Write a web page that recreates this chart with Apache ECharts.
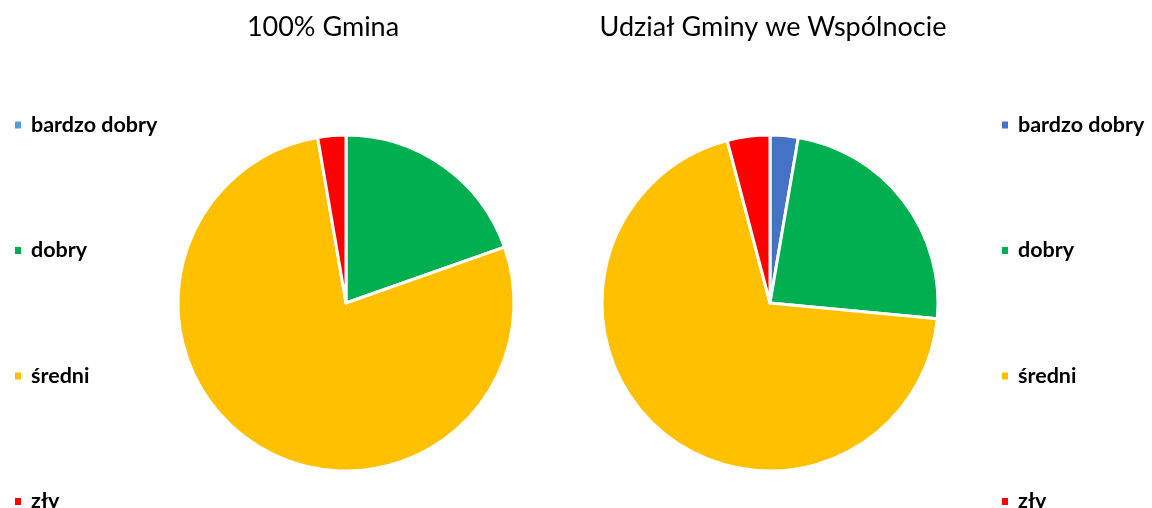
<!DOCTYPE html>
<html>
<head>
<meta charset="utf-8">
<script src="https://cdn.jsdelivr.net/npm/echarts@6/dist/echarts.min.js"></script>
<style>
  html, body { margin: 0; padding: 0; background: #fff; }
  #chart { width: 1152px; height: 508px; }
</style>
</head>
<body>
<div id="chart"></div>
<script>
const categories = ['bardzo dobry', 'dobry', 'średni', 'zły']
const gminaValues = [0, 19.6, 77.7, 2.7]
const wspolnotaValues = [2.7, 23.8, 69.4, 4.1]
const titles = ['100% Gmina', 'Udział Gminy we Wspólnocie']

const leftColors = ['#5B9BD5', '#00B050', '#FFC000', '#FF0000']
const rightColors = ['#4472C4', '#00B050', '#FFC000', '#FF0000']

const font = 'Lato, "Open Sans", sans-serif'

const toData = (values, colors) =>
  categories.map((name, i) => ({ name, value: values[i], itemStyle: { color: colors[i] } }))

const legendFor = (left, colors) => ({
  orient: 'vertical',
  left,
  top: 109,
  height: 420,
  icon: 'rect',
  itemWidth: 8,
  itemHeight: 9,
  itemGap: 103.5,
  selectedMode: false,
  textStyle: {
    fontFamily: font,
    fontWeight: 'bold',
    fontSize: 21.5,
    color: '#000',
    lineHeight: 20,
    height: 20,
    padding: [0, 0, 0, 4]
  },
  data: categories.map((name, i) => ({ name, itemStyle: { color: colors[i] } }))
})

const pieSeries = (center, values, colors) => ({
  type: 'pie',
  center,
  radius: 168,
  startAngle: 90,
  label: { show: false },
  labelLine: { show: false },
  emphasis: { disabled: true },
  itemStyle: { borderColor: '#fff', borderWidth: 3 },
  data: toData(values, colors)
})

const titleStyle = { fontFamily: font, fontWeight: 'normal', fontSize: 27, color: '#000' }

const chart = echarts.init(document.getElementById('chart'))
chart.setOption({
  animation: false,
  title: [
    { text: titles[0], left: 318, top: 9, textAlign: 'center', textStyle: titleStyle },
    { text: titles[1], left: 768, top: 9, textAlign: 'center', textStyle: titleStyle }
  ],
  legend: [legendFor(8, leftColors), legendFor(995, rightColors)],
  series: [
    pieSeries([346, 303], gminaValues, leftColors),
    pieSeries([770, 303], wspolnotaValues, rightColors)
  ]
})
</script>
</body>
</html>
